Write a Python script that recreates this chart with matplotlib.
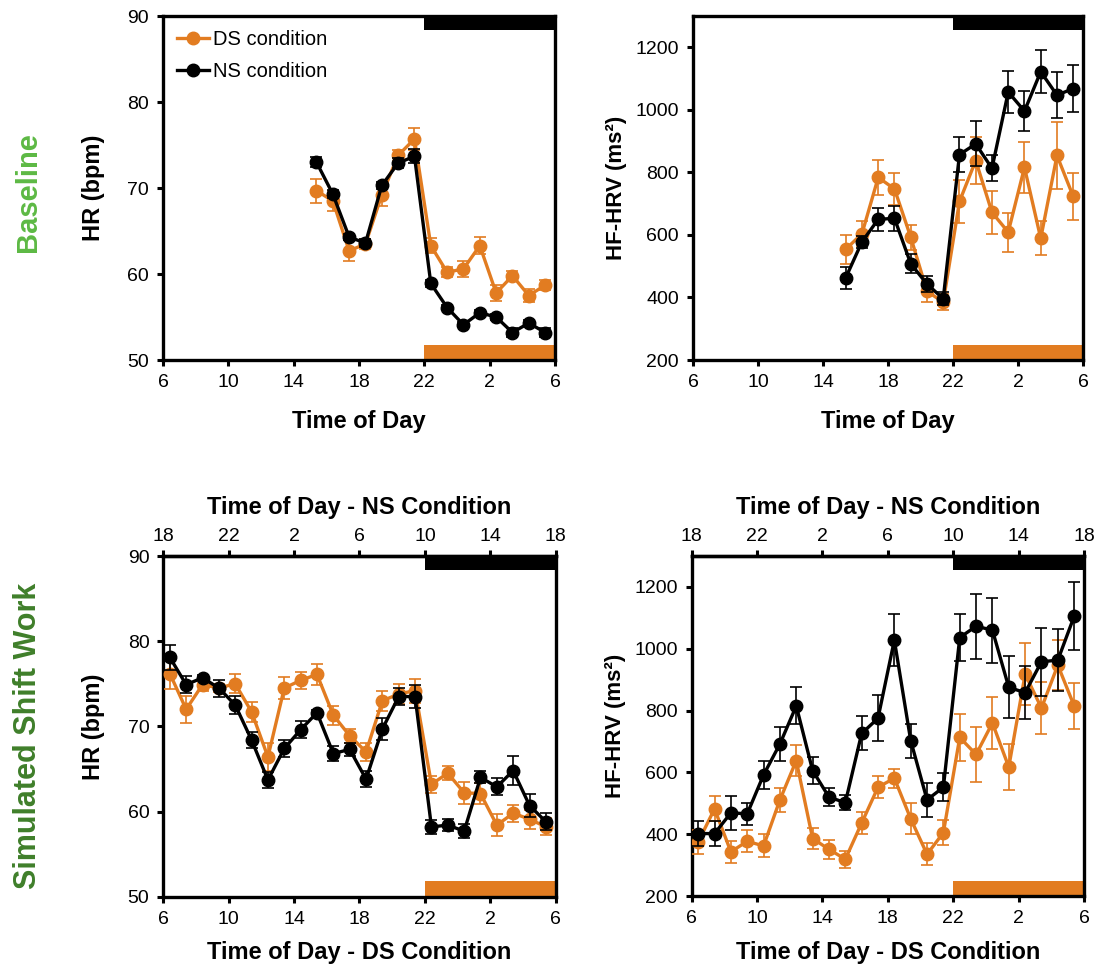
import matplotlib
matplotlib.use("Agg")
import matplotlib.pyplot as plt
from matplotlib.lines import Line2D

plt.rcParams['font.family'] = ['Liberation Sans', 'DejaVu Sans']

# colours
orange = '#E27C21'
black = '#000000'

# hours (x positions, 6 = 06:00, 30 = 06:00 next day)
base_hours = [15.4, 16.4, 17.4, 18.4, 19.4, 20.4, 21.4, 22.4, 23.4, 24.4,
              25.4, 26.4, 27.4, 28.4, 29.4]
shift_hours = [6.4, 7.4, 8.4, 9.4, 10.4, 11.4, 12.4, 13.4, 14.4, 15.4, 16.4, 17.4,
               18.4, 19.4, 20.4, 21.4, 22.4, 23.4, 24.4, 25.4, 26.4, 27.4, 28.4, 29.4]

tick_pos = [6, 10, 14, 18, 22, 26, 30]
ds_ticklabels = ['6', '10', '14', '18', '22', '2', '6']
ns_ticklabels = ['18', '22', '2', '6', '10', '14', '18']

# Baseline HR
base_hr_ds = [69.7, 68.5, 62.7, 63.5, 69.2, 73.8, 75.7, 63.3, 60.2, 60.6, 63.3, 57.8, 59.8, 57.5, 58.7]
base_hr_ds_err = [1.4, 1.2, 1.2, 0.6, 1.3, 0.6, 1.3, 0.9, 0.6, 0.9, 1.0, 0.9, 0.5, 0.8, 0.6]
base_hr_ns = [73.0, 69.3, 64.3, 63.6, 70.3, 72.9, 73.7, 58.9, 56.1, 54.1, 55.5, 55.0, 53.2, 54.3, 53.2]
base_hr_ns_err = [0.6, 0.5, 0.4, 0.5, 0.4, 0.6, 0.8, 0.4, 0.3, 0.3, 0.3, 0.4, 0.5, 0.4, 0.5]

# Baseline HF-HRV
base_hrv_ds = [554, 604, 784, 747, 593, 420, 385, 707, 838, 672, 609, 816, 589, 854, 723]
base_hrv_ds_err = [46, 40, 55, 50, 40, 33, 25, 70, 75, 70, 62, 82, 54, 108, 75]
base_hrv_ns = [463, 578, 650, 653, 508, 443, 396, 857, 891, 813, 1057, 996, 1122, 1047, 1068]
base_hrv_ns_err = [36, 20, 36, 41, 30, 25, 20, 56, 72, 42, 67, 65, 68, 73, 74]

# Simulated shift work HR
shift_hr_ds = [76.2, 72.0, 74.9, 74.5, 75.0, 71.7, 66.4, 74.5, 75.4, 76.1, 71.3, 68.9,
               67.0, 73.0, 73.8, 74.2, 63.2, 64.5, 62.2, 62.1, 58.4, 59.8, 59.1, 58.2]
shift_hr_ds_err = [1.8, 1.6, 0.7, 0.5, 1.1, 1.2, 1.6, 1.3, 1.0, 1.2, 1.1, 0.8,
                   1.1, 1.2, 1.2, 1.4, 1.0, 0.8, 1.3, 1.2, 1.3, 1.0, 1.1, 1.0]
shift_hr_ns = [78.1, 74.9, 75.7, 74.5, 72.5, 68.4, 63.7, 67.4, 69.6, 71.6, 66.8, 67.3,
               63.8, 69.7, 73.5, 73.5, 58.2, 58.4, 57.7, 64.0, 62.9, 64.8, 60.7, 58.8]
shift_hr_ns_err = [1.5, 1.0, 0.3, 1.0, 1.1, 0.9, 0.9, 1.0, 1.0, 0.3, 0.9, 0.8,
                   0.9, 1.3, 1.0, 1.4, 0.8, 0.7, 0.8, 0.7, 1.0, 1.7, 1.3, 1.0]

# Simulated shift work HF-HRV
shift_hrv_ds = [375, 482, 343, 377, 362, 511, 638, 386, 351, 319, 436, 552,
                581, 450, 335, 405, 713, 658, 760, 617, 918, 808, 947, 815]
shift_hrv_ds_err = [40, 40, 35, 35, 37, 40, 50, 35, 30, 28, 35, 35,
                    30, 50, 35, 40, 75, 90, 85, 75, 100, 85, 80, 75]
shift_hrv_ns = [402, 402, 469, 466, 592, 692, 815, 606, 520, 502, 726, 775,
                1028, 703, 511, 552, 1036, 1073, 1060, 875, 858, 958, 963, 1105]
shift_hrv_ns_err = [40, 40, 55, 35, 45, 55, 60, 45, 30, 25, 55, 75,
                    85, 55, 55, 45, 75, 105, 105, 100, 85, 110, 100, 110]

fig = plt.figure(figsize=(11.07, 9.77), dpi=100)

ax_tl = fig.add_axes([0.1472, 0.6315, 0.3541, 0.3521])
ax_tr = fig.add_axes([0.626, 0.6315, 0.3523, 0.3521])
ax_bl = fig.add_axes([0.1475, 0.0822, 0.3545, 0.3487])
ax_br = fig.add_axes([0.6248, 0.0829, 0.3544, 0.348])


def draw(ax, hours, ds, ds_err, ns, ns_err):
    ax.errorbar(hours, ds, yerr=ds_err, fmt='-o', color=orange, ecolor=orange,
                lw=2.4, ms=9, elinewidth=1.2, capsize=4, capthick=1.2, zorder=3)
    ax.errorbar(hours, ns, yerr=ns_err, fmt='-o', color=black, ecolor=black,
                lw=2.4, ms=9, elinewidth=1.2, capsize=4, capthick=1.2, zorder=4)
    # sleep bars: NS on top, DS at bottom
    ax.axvspan(22, 30, ymin=0.958, ymax=1.0, color=black, lw=0, zorder=2)
    ax.axvspan(22, 30, ymin=0.0, ymax=0.045, color=orange, lw=0, zorder=2)
    ax.set_xlim(6, 30)
    ax.set_xticks(tick_pos)
    ax.set_xticklabels(ds_ticklabels)
    for sp in ax.spines.values():
        sp.set_linewidth(2.4)
    ax.tick_params(direction='out', length=4, width=2.2, labelsize=14, pad=6)


draw(ax_tl, base_hours, base_hr_ds, base_hr_ds_err, base_hr_ns, base_hr_ns_err)
draw(ax_tr, base_hours, base_hrv_ds, base_hrv_ds_err, base_hrv_ns, base_hrv_ns_err)
draw(ax_bl, shift_hours, shift_hr_ds, shift_hr_ds_err, shift_hr_ns, shift_hr_ns_err)
draw(ax_br, shift_hours, shift_hrv_ds, shift_hrv_ds_err, shift_hrv_ns, shift_hrv_ns_err)

for ax in (ax_tl, ax_bl):
    ax.set_ylim(50, 90)
    ax.set_yticks([50, 60, 70, 80, 90])
    ax.set_ylabel('HR (bpm)', fontsize=17, fontweight='bold', labelpad=16)
for ax in (ax_tr, ax_br):
    ax.set_ylim(200, 1300)
    ax.set_yticks([200, 400, 600, 800, 1000, 1200])
    ax.set_ylabel('HF-HRV (ms²)', fontsize=16, fontweight='bold', labelpad=6)

for ax in (ax_tl, ax_tr):
    ax.set_xlabel('Time of Day', fontsize=17, fontweight='bold', labelpad=14)
for ax in (ax_bl, ax_br):
    ax.set_xlabel('Time of Day - DS Condition', fontsize=17, fontweight='bold', labelpad=10)
    top = ax.secondary_xaxis('top')
    top.set_xticks(tick_pos)
    top.set_xticklabels(ns_ticklabels)
    top.tick_params(direction='out', length=4, width=2.2, labelsize=14, pad=4)
    top.spines['top'].set_linewidth(2.4)
    top.set_xlabel('Time of Day - NS Condition', fontsize=17, fontweight='bold', labelpad=10)

handles = [Line2D([], [], color=orange, marker='o', lw=2.4, ms=9),
           Line2D([], [], color=black, marker='o', lw=2.4, ms=9)]
ax_tl.legend(handles, ['DS condition', 'NS condition'], loc='upper left',
             bbox_to_anchor=(0.0, 1.0), frameon=False, fontsize=14.5,
             handlelength=1.6, handletextpad=0.2, labelspacing=0.65, borderaxespad=0.3)

fig.text(0.025, 0.803, 'Baseline', rotation=90, ha='center', va='center',
         fontsize=21, fontweight='bold', color='#5DB944')
fig.text(0.025, 0.247, 'Simulated Shift Work', rotation=90, ha='center', va='center',
         fontsize=22, fontweight='bold', color='#3F7F2A')

fig.savefig('out.png', dpi=100)
